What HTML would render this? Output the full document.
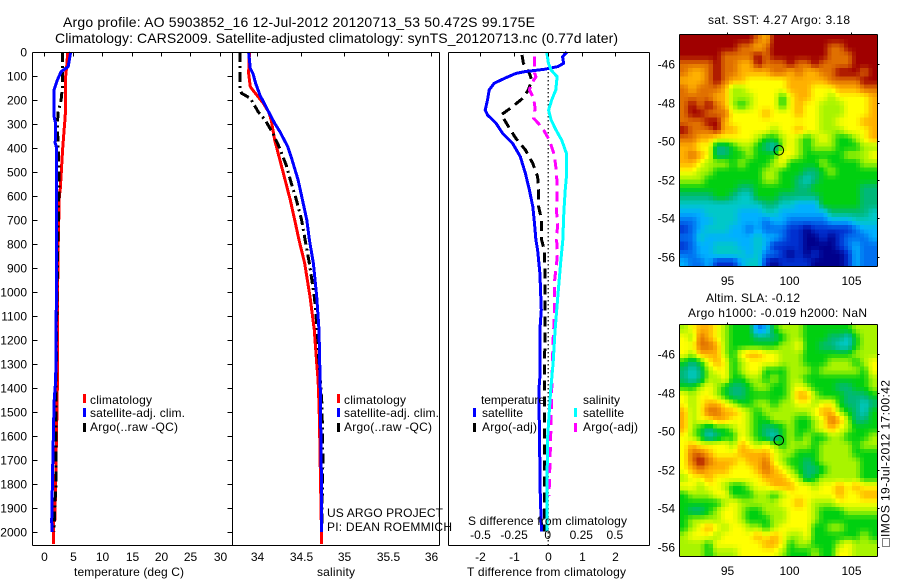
<!DOCTYPE html>
<html lang="en">
<head>
<meta charset="utf-8">
<title>Argo profile</title>
<style>
html,body{margin:0;padding:0;background:#fff;}
svg{display:block;font-family:"Liberation Sans",Arial,sans-serif;fill:#000;}
text{font-size:12px;}
</style>
</head>
<body>
<svg id="chart" width="900" height="580" viewBox="0 0 900 580" xmlns="http://www.w3.org/2000/svg">
  <rect x="0" y="0" width="900" height="580" fill="#fff"/>
  <g id="heatmaps"></g>
  <g id="lines"></g>
  <g id="frames"></g>
  <g id="labels"></g>

  <text x="63" y="27" style="font-size:14px" textLength="472">Argo profile: AO 5903852_16 12-Jul-2012 20120713_53 50.472S 99.175E</text>
  <text x="55" y="43" style="font-size:14px" textLength="563">Climatology: CARS2009. Satellite-adjusted climatology: synTS_20120713.nc (0.77d later)</text>
  <text x="708" y="24" textLength="142">sat. SST: 4.27 Argo: 3.18</text>
  <text x="706" y="302" textLength="94">Altim. SLA: -0.12</text>
  <text x="688" y="317" textLength="179">Argo h1000: -0.019 h2000: NaN</text>

  <text x="74" y="576" textLength="110">temperature (deg C)</text>
  <text x="317" y="576" textLength="38">salinity</text>
  <text x="467" y="576" textLength="159">T difference from climatology</text>
  <text x="468" y="525" textLength="159">S difference from climatology</text>

  <g>
    <rect x="83" y="394" width="3" height="9" fill="#f00"/>
    <rect x="83" y="408" width="3" height="9" fill="#00f"/>
    <rect x="83" y="423" width="3" height="9" fill="#000"/>
    <text x="90" y="404" textLength="62">climatology</text>
    <text x="90" y="417" textLength="95">satellite-adj. clim.</text>
    <text x="90" y="431" textLength="88">Argo(..raw -QC)</text>
  </g>
  <g>
    <rect x="337" y="394" width="3" height="9" fill="#f00"/>
    <rect x="337" y="408" width="3" height="9" fill="#00f"/>
    <rect x="337" y="423" width="3" height="9" fill="#000"/>
    <text x="344" y="404" textLength="62">climatology</text>
    <text x="344" y="417" textLength="95">satellite-adj. clim.</text>
    <text x="344" y="431" textLength="88">Argo(..raw -QC)</text>
  </g>
  <text x="327" y="517" textLength="116">US ARGO PROJECT</text>
  <text x="327" y="531" textLength="125">PI: DEAN ROEMMICH</text>

  <g>
    <text x="481" y="404" textLength="64">temperature</text>
    <rect x="473" y="408" width="3" height="9" fill="#00f"/>
    <text x="482" y="417" textLength="41">satellite</text>
    <rect x="473" y="423" width="3" height="9" fill="#000"/>
    <text x="482" y="431" textLength="55">Argo(-adj)</text>
    <text x="583" y="404" textLength="37">salinity</text>
    <rect x="574" y="408" width="3" height="9" fill="#0ff"/>
    <text x="583" y="417" textLength="41">satellite</text>
    <rect x="574" y="423" width="3" height="9" fill="#f0f"/>
    <text x="583" y="431" textLength="55">Argo(-adj)</text>
  </g>

  <rect x="882.5" y="538.5" width="7" height="8" fill="none" stroke="#000" stroke-width="1" stroke-dasharray="1 1"/>
  <text transform="translate(889.5 537) rotate(-90)" textLength="157">IMOS 19-Jul-2012 17:00:42</text>
</svg>

<script>
// ---- profile data (depth in m, temperature in deg C, salinity in psu) ----
const depthTicks = [0,100,200,300,400,500,600,700,800,900,1000,1100,1200,1300,1400,1500,1600,1700,1800,1900,2000];
const tempTicks = [0,5,10,15,20,25,30];
const salTicks = [34,34.5,35,35.5,36];
const salTickLabels = ['34','34.5','35','35.5','36'];
const tDiffTicks = [-2,-1,0,1,2];
const sDiffTicks = [-0.5,-0.25,0,0.25,0.5];
const sDiffTickLabels = ['-0.5','-0.25','0','0.25','0.5'];
const lonTicks = [95,100,105];
const latTicks = [-46,-48,-50,-52,-54,-56];

const tempClimDepth = [0,60,100,200,270,330,400,500,570,600,800,1000,1400,1550,1770,1950,1960,2050];
const tempClimValues = [4.12,3.95,3.78,3.78,3.7,3.5,3.27,3.03,2.87,2.7,2.5,2.4,2.35,2.25,2.07,1.95,1.67,1.67];
const tempSatDepth = [0,61,82,117,158,269,300,380,400,600,1000,1367,1457,1728,1954,2000];
const tempSatValues = [4.63,4.2,3.0,2.35,1.8,1.8,2.07,2.0,2.25,2.25,2.2,2.07,1.8,1.57,1.4,1.45];
const tempArgoDepth = [0,100,150,200,250,300,400,500,600,1000,1400,1800,1900,2000];
const tempArgoValues = [3.2,3.2,3.2,3.0,2.5,2.35,2.5,2.64,2.6,2.3,2.13,2.13,1.9,1.8];

const salClimDepth = [0,89,144,160,214,249,283,367,450,533,617,700,783,881,1019,1158,1297,1367,1470,1560,1650,1960,2050];
const salClimValues = [33.91,33.9,33.92,33.95,34.07,34.13,34.16,34.2,34.26,34.32,34.38,34.43,34.48,34.545,34.606,34.656,34.683,34.7,34.71,34.717,34.72,34.737,34.737];
const salSatDepth = [0,68,90,130,179,249,297,332,394,450,533,617,700,783,881,1019,1158,1408,1550,1750,2000];
const salSatValues = [33.9,33.92,33.95,33.98,34.03,34.13,34.2,34.26,34.35,34.4,34.47,34.52,34.57,34.6,34.645,34.683,34.71,34.725,34.73,34.737,34.74];
const salArgoDepth = [0,158,172,193,249,283,339,394,478,533,617,700,783,881,1019,1158,1297,1470,1700,2000];
const salArgoValues = [33.8,33.8,33.82,33.92,34.01,34.09,34.18,34.25,34.34,34.38,34.45,34.51,34.55,34.6,34.656,34.69,34.71,34.745,34.755,34.74];

const tDiffSatDepth = [0,19,47,61,72,82,89,110,130,158,200,242,262,297,339,380,436,506,575,644,714,783,825,922,1075,1158,1353,1408,1548,1853,1998];
const tDiffSatValues = [0.57,0.44,0.47,0.3,-0.1,-0.69,-0.94,-1.28,-1.58,-1.73,-1.78,-1.85,-1.78,-1.53,-1.33,-1.04,-0.81,-0.66,-0.54,-0.44,-0.39,-0.35,-0.3,-0.23,-0.19,-0.23,-0.23,-0.26,-0.25,-0.22,-0.18];
const tDiffArgoDepth = [12,47,89,117,158,193,228,262,283,318,360,408,464,519,575,644,700,783,825,922,1158,1408,1998];
const tDiffArgoValues = [-0.76,-0.72,-0.54,-0.47,-0.57,-0.74,-1.04,-1.38,-1.28,-1.13,-0.94,-0.66,-0.44,-0.3,-0.27,-0.27,-0.18,-0.18,-0.1,-0.08,-0.08,-0.1,-0.1];
const sDiffSatDepth = [0,47,75,103,158,200,242,283,325,367,422,506,575,672,783,881,1019,1158,1297,1408,1600,1850,1998];
const sDiffSatValues = [-0.007,0.005,0.025,0.07,0.06,0.03,0.007,0.025,0.062,0.104,0.139,0.141,0.13,0.12,0.112,0.096,0.075,0.055,0.04,0.022,0.0,-0.007,-0.007];
const sDiffArgoDepth = [19,89,103,130,158,193,235,276,318,367,430,486,547,603,658,714,783,860,960,1100,1200,1408,1600,1850];
const sDiffArgoValues = [-0.097,-0.097,-0.087,-0.118,-0.136,-0.104,-0.094,-0.104,-0.037,0.012,0.05,0.062,0.07,0.07,0.065,0.074,0.067,0.07,0.05,0.05,0.04,0.03,0.022,0.01];

// ---- map data: colour-class level (0 coldest/lowest .. 11 warmest/highest), 24 columns x 28 rows ----
const sstLevels = [
[11,11,11,11,11,11,11,11,11,10,9,11,11,11,11,11,11,11,11,11,11,11,11,11],
[11,11,11,11,11,11,11,10,10,9,10,11,11,11,11,11,11,11,10,10,11,11,11,11],
[11,11,11,11,11,10,10,10,10,11,10,11,11,11,11,11,11,11,10,10,10,11,11,11],
[10,10,10,10,11,10,10,9,9,11,10,10,10,11,10,10,11,10,10,10,10,11,11,11],
[10,9,9,10,11,10,10,9,9,9,9,10,10,9,10,9,9,10,10,11,11,11,10,11],
[9,9,9,10,11,10,9,9,8,8,8,8,8,9,9,9,9,9,10,10,10,10,11,11],
[10,9,10,10,10,9,7,7,8,8,8,8,8,9,9,9,8,8,8,9,9,9,10,10],
[10,10,10,10,9,9,7,7,7,8,8,8,6,8,9,9,8,8,7,8,8,8,8,9],
[10,11,10,11,10,9,7,6,7,8,8,8,6,8,9,8,8,7,7,7,8,8,8,9],
[10,11,11,10,10,10,8,8,8,8,9,8,8,8,9,8,8,7,7,7,8,8,8,9],
[10,10,10,11,11,9,8,8,8,8,8,8,8,8,8,8,8,7,7,8,8,8,9,9],
[11,10,10,10,11,9,9,8,8,8,8,7,8,8,9,8,8,7,7,7,8,8,8,9],
[10,10,9,9,8,8,8,8,8,7,6,6,7,8,7,6,7,8,7,6,6,7,8,9],
[9,9,8,8,5,5,6,7,7,6,5,4,7,8,7,6,7,7,7,6,6,6,7,7],
[9,10,9,8,5,5,6,6,7,6,6,6,8,8,7,6,6,6,6,6,7,7,7,8],
[9,9,8,7,7,7,6,7,6,6,6,7,8,6,6,6,6,7,6,6,6,6,7,7],
[8,8,7,7,6,6,6,6,6,6,7,7,6,6,6,5,5,6,7,6,6,6,6,6],
[7,7,7,6,6,6,6,6,6,6,7,7,6,6,5,4,5,6,6,6,6,6,6,6],
[6,6,6,6,6,6,6,5,5,6,6,6,6,6,5,5,6,6,6,6,6,6,5,5],
[5,5,5,5,6,6,5,4,4,6,6,6,5,5,5,5,5,6,6,6,6,6,5,5],
[4,4,4,4,4,4,4,4,4,4,5,5,4,4,3,3,3,6,6,6,6,6,5,5],
[3,3,3,4,4,4,4,3,3,3,4,4,3,3,3,3,3,3,5,5,5,5,5,4],
[2,2,3,3,4,4,4,3,3,3,2,3,3,2,2,2,2,2,3,3,3,4,4,4],
[1,2,3,4,4,4,3,3,2,3,2,2,2,1,1,0,1,1,1,1,1,2,3,3],
[2,2,4,3,3,3,3,3,3,4,3,3,2,1,1,0,0,1,0,1,2,2,2,3],
[1,2,3,3,4,4,4,3,3,4,3,1,1,1,1,0,0,0,0,1,2,3,2,2],
[2,2,3,3,4,4,4,4,3,4,2,2,1,0,1,0,1,0,0,0,1,3,2,2],
[3,2,2,3,1,1,1,3,4,4,1,0,1,1,1,1,0,0,0,0,1,3,2,2]
];
const slaLevels = [
[7,8,9,9,8,7,6,6,6,2,3,6,7,7,7,6,6,6,6,6,6,7,7,7],
[8,7,10,9,8,7,6,6,6,5,5,5,6,7,7,6,6,6,5,5,4,6,7,7],
[8,8,10,10,9,7,6,6,6,6,6,6,7,7,8,6,6,5,5,4,4,6,7,7],
[8,7,9,9,9,7,6,8,9,9,8,8,7,7,7,6,6,6,6,6,6,7,7,7],
[6,5,6,8,9,8,6,7,8,8,8,8,7,7,7,6,6,6,7,7,7,6,7,8],
[5,4,5,7,8,8,6,7,8,8,6,6,6,7,7,7,6,7,7,7,7,7,6,8],
[5,4,5,7,7,8,6,6,7,7,6,7,6,7,7,6,6,6,6,6,6,6,6,7],
[6,6,7,8,7,6,5,5,6,7,7,6,6,7,8,7,6,6,6,5,5,6,6,7],
[8,7,8,8,7,6,5,5,6,6,6,6,6,7,9,9,7,6,6,6,5,5,5,6],
[8,7,8,9,9,8,7,6,6,7,7,6,7,7,8,8,7,8,8,6,5,5,4,5],
[9,7,8,10,10,9,9,8,7,6,7,7,7,7,7,7,8,9,9,7,6,5,4,6],
[9,7,8,8,9,9,8,8,7,6,6,7,7,7,6,6,7,8,10,9,7,5,5,6],
[9,7,6,5,6,6,7,8,7,6,5,5,6,7,6,6,7,8,9,8,7,6,6,6],
[8,7,6,4,5,6,6,8,7,6,5,4,6,7,6,7,6,6,7,7,6,6,6,7],
[8,9,8,8,8,8,7,9,8,7,8,7,6,7,7,7,6,7,7,7,7,6,7,7],
[8,10,10,9,8,8,8,9,9,9,9,8,7,7,6,6,6,7,7,7,7,6,6,6],
[8,10,11,10,9,9,9,8,9,9,10,8,7,6,6,5,6,7,7,7,7,7,6,6],
[8,9,10,9,9,9,8,8,8,9,10,9,8,7,6,5,5,6,7,7,7,7,6,6],
[7,8,8,9,8,8,8,8,8,8,9,9,9,8,7,5,6,7,7,7,7,7,6,6],
[8,8,7,8,8,7,6,6,7,8,8,9,9,9,8,8,7,8,8,9,8,9,8,8],
[6,7,7,7,8,8,6,6,6,7,7,6,7,8,8,8,8,8,8,9,8,8,9,9],
[6,6,6,6,6,7,8,7,7,7,7,7,8,8,9,8,7,7,7,8,8,8,8,8],
[6,5,5,6,7,8,8,7,6,6,7,7,7,8,8,8,7,6,6,6,7,7,7,7],
[6,7,7,7,7,8,8,7,6,6,6,7,7,8,8,8,7,6,6,6,6,6,6,6],
[6,7,8,9,8,7,8,8,7,7,6,7,8,8,8,8,6,6,7,7,6,6,6,6],
[7,8,8,8,7,8,8,8,8,9,8,9,8,7,7,8,6,6,6,6,6,6,7,6],
[7,7,7,6,8,8,8,8,8,8,9,9,8,6,7,7,6,6,6,7,8,7,7,7],
[7,7,7,6,7,7,7,8,8,8,8,8,7,6,6,6,7,6,6,8,8,7,7,7]
];
const floatLon = [99.175];
const floatLat = [-50.472];

// ---- presentation ----
const levelColours = [[0,0,140],[0,48,208],[0,112,240],[0,176,255],[0,200,200],[0,184,120],[0,208,16],[168,244,0],[255,255,0],[255,176,0],[224,112,0],[160,0,0]];
const NS = 'http://www.w3.org/2000/svg';
const lineLayer = document.getElementById('lines');
const frameLayer = document.getElementById('frames');
const labelLayer = document.getElementById('labels');
const mapLayer = document.getElementById('heatmaps');

// axis functions
const yDepth = d => 52 + 0.24 * d;
const xTemp = v => 43.5 + 5.87 * v;
const xSal = v => 257.3 + 86.9 * (v - 34);
const xTDiff = v => 547.7 + 33.8 * v;
const xSDiff = v => 547.7 + 134.4 * v;
const xLon = v => 727.3 + 12.34 * (v - 95);
const ySst = v => 64 + 19.3 * (-46 - v);
const ySla = v => 354 + 19.3 * (-46 - v);

function seg(parent, x1, y1, x2, y2) {
  const el = document.createElementNS(NS, 'line');
  el.setAttribute('x1', x1);
  el.setAttribute('y1', y1);
  el.setAttribute('x2', x2);
  el.setAttribute('y2', y2);
  el.setAttribute('stroke', '#000');
  el.setAttribute('stroke-width', 1);
  el.setAttribute('shape-rendering', 'crispEdges');
  
  
  parent.appendChild(el);
}
function label(str, x, y, anchor) {
  const el = document.createElementNS(NS, 'text');
  el.setAttribute('x', x);
  el.setAttribute('y', y);
  el.setAttribute('text-anchor', anchor);
  
  
  el.textContent = str;
  labelLayer.appendChild(el);
}
function profile(depths, values, xFn, colour, dash) {
  const el = document.createElementNS(NS, 'polyline');
  el.setAttribute('points', depths.map((d, i) => xFn(values[i]).toFixed(1) + ',' + yDepth(d).toFixed(1)).join(' '));
  el.setAttribute('fill', 'none');
  el.setAttribute('stroke', colour);
  el.setAttribute('stroke-width', 3);
  el.setAttribute('shape-rendering', 'crispEdges');
  if (dash) el.setAttribute('stroke-dasharray', dash);
  
  
  lineLayer.appendChild(el);
}
function box(x0, y0, x1, y1) {
  seg(frameLayer, x0, y0, x1, y0);
  seg(frameLayer, x0, y1, x1, y1);
  seg(frameLayer, x0, y0, x0, y1);
  seg(frameLayer, x1, y0, x1, y1);
}
function levelColour(lv) {
  const i = Math.min(Math.floor(lv), levelColours.length - 2);
  const t = lv - i;
  const a = levelColours[i];
  const b = levelColours[i + 1];
  return 'rgb(' + a.map((v, k) => Math.round(v + (b[k] - v) * t)).join(',') + ')';
}
// each level is shown as 2x2 sub-cells, shaded smoothly towards its neighbours
function levelAt(levels, r, c) {
  const rr = Math.max(0, Math.min(levels.length - 1, r));
  const cc = Math.max(0, Math.min(levels[0].length - 1, c));
  const r0 = Math.floor(rr);
  const c0 = Math.floor(cc);
  const r1 = Math.min(levels.length - 1, r0 + 1);
  const c1 = Math.min(levels[0].length - 1, c0 + 1);
  const fr = rr - r0;
  const fc = cc - c0;
  return (levels[r0][c0] * (1 - fc) + levels[r0][c1] * fc) * (1 - fr) +
         (levels[r1][c0] * (1 - fc) + levels[r1][c1] * fc) * fr;
}
function heatmap(levels, x0, y0, w, h) {
  const rows = levels.length * 2;
  const cols = levels[0].length * 2;
  for (let r = 0; r < rows; r++) {
    for (let c = 0; c < cols; c++) {
      const lv = levelAt(levels, (r + 0.5) / 2 - 0.5, (c + 0.5) / 2 - 0.5);
      const el = document.createElementNS(NS, 'rect');
      el.setAttribute('x', x0 + c * w / cols);
      el.setAttribute('y', y0 + r * h / rows);
      el.setAttribute('width', w / cols + 0.5);
      el.setAttribute('height', h / rows + 0.5);
      el.setAttribute('fill', levelColour(lv));
      el.setAttribute('shape-rendering', 'crispEdges');
      
      
      mapLayer.appendChild(el);
    }
  }
}
function marker(cx, cy) {
  const el = document.createElementNS(NS, 'circle');
  el.setAttribute('cx', cx);
  el.setAttribute('cy', cy);
  el.setAttribute('r', 4.8);
  el.setAttribute('fill', 'none');
  el.setAttribute('stroke', '#000');
  el.setAttribute('stroke-width', 1);
  
  
  frameLayer.appendChild(el);
}

// maps
heatmap(sstLevels, 680, 35, 196.5, 231.5);
heatmap(slaLevels, 680, 325, 196.5, 231.5);

// zero line of the difference panel
const zeroLine = document.createElementNS(NS, 'line');
zeroLine.setAttribute('x1', xTDiff(0) + 0.5);
zeroLine.setAttribute('x2', xTDiff(0) + 0.5);
zeroLine.setAttribute('y1', 52);
zeroLine.setAttribute('y2', 545);
zeroLine.setAttribute('stroke', '#000');
zeroLine.setAttribute('stroke-width', 1.2);
zeroLine.setAttribute('stroke-dasharray', '1.5 2.5');


lineLayer.appendChild(zeroLine);

// profile lines
const dashDot = '10 4 2 4';
const dashed = '10 6';
profile(tempClimDepth, tempClimValues, xTemp, '#f00');
profile(tempArgoDepth, tempArgoValues, xTemp, '#000', dashDot);
profile(tempSatDepth, tempSatValues, xTemp, '#00f');
profile(salClimDepth, salClimValues, xSal, '#f00');
profile(salArgoDepth, salArgoValues, xSal, '#000', dashDot);
profile(salSatDepth, salSatValues, xSal, '#00f');
profile(tDiffArgoDepth, tDiffArgoValues, xTDiff, '#000', dashed);
profile(tDiffSatDepth, tDiffSatValues, xTDiff, '#00f');
profile(sDiffArgoDepth, sDiffArgoValues, xSDiff, '#f0f', dashed);
profile(sDiffSatDepth, sDiffSatValues, xSDiff, '#0ff');

// panel frames
box(32.5, 52.5, 232.5, 545.5);
box(232.5, 52.5, 439.5, 545.5);
box(448.5, 52.5, 649.5, 545.5);
box(679.5, 34.5, 877.5, 266.5);
box(679.5, 324.5, 877.5, 556.5);

// depth ticks and labels
depthTicks.forEach(d => {
  const y = Math.round(yDepth(d)) + 0.5;
  seg(frameLayer, 32.5, y, 37.5, y);
  seg(frameLayer, 227.5, y, 232.5, y);
  label(String(d), 27, y + 4, 'end');
});
// top ticks and bottom labels of the profile panels
tempTicks.forEach(v => {
  const x = Math.round(xTemp(v)) + 0.5;
  seg(frameLayer, x, 52.5, x, 56.5);
  label(String(v), x, 561, 'middle');
});
salTicks.forEach((v, i) => {
  const x = Math.round(xSal(v)) + 0.5;
  seg(frameLayer, x, 52.5, x, 56.5);
  label(salTickLabels[i], x, 561, 'middle');
});
tDiffTicks.forEach(v => {
  const x = Math.round(xTDiff(v)) + 0.5;
  seg(frameLayer, x, 52.5, x, 56.5);
  label(String(v), x, 561, 'middle');
});
sDiffTicks.forEach((v, i) => {
  label(sDiffTickLabels[i], xSDiff(v), 539, 'middle');
});

// map ticks and labels
lonTicks.forEach(v => {
  const x = Math.round(xLon(v)) + 0.5;
  seg(frameLayer, x, 32.5, x, 34.5);
  seg(frameLayer, x, 322.5, x, 324.5);
  label(String(v), x, 285, 'middle');
  label(String(v), x, 575, 'middle');
});
latTicks.forEach(v => {
  const y1 = Math.round(ySst(v)) + 0.5;
  const y2 = Math.round(ySla(v)) + 0.5;
  seg(frameLayer, 877.5, y1, 879.5, y1);
  seg(frameLayer, 877.5, y2, 879.5, y2);
  label(String(v), 675, y1 + 4, 'end');
  label(String(v), 675, y2 + 4, 'end');
});

// float positions
marker(xLon(floatLon[0]), ySst(floatLat[0]));
marker(xLon(floatLon[0]), ySla(floatLat[0]));
</script>
</body>
</html>
